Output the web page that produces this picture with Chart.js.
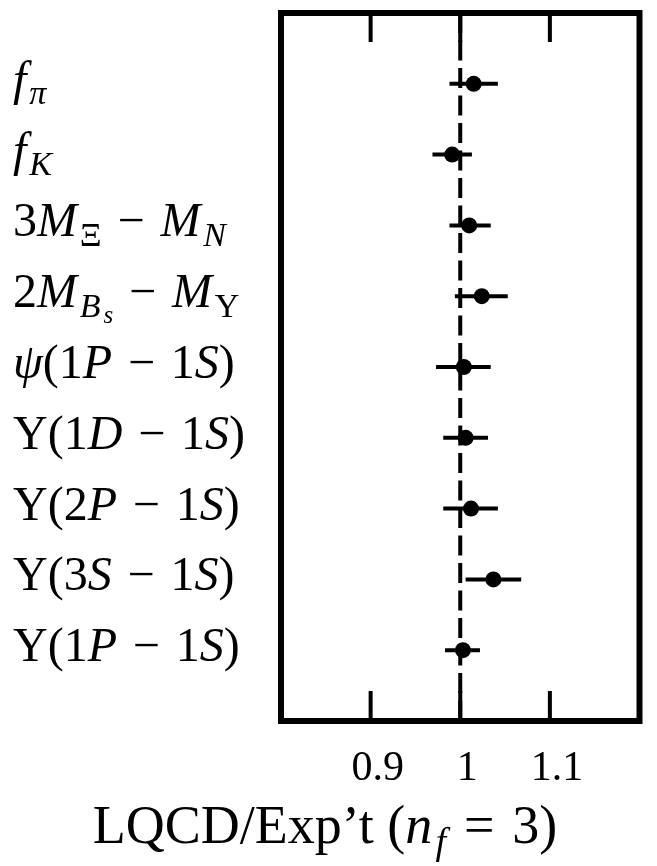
<!DOCTYPE html>
<html>
<head>
<meta charset="utf-8">
<script src="https://cdn.jsdelivr.net/npm/chart.js@4.4.1/dist/chart.umd.min.js"></script>
<style>
  html, body { margin: 0; padding: 0; background: #fff; }
  #wrap { width: 657px; height: 866px; }
</style>
</head>
<body>
<div id="wrap"><canvas id="chart" width="657" height="866"></canvas></div>
<script>
// rows from top to bottom; $..$ marks math mode, _{..} a subscript
const categories = [
  '$f_{π}$',
  '$f_{K}$',
  '$3M_{Ξ} − M_{N}$',
  '$2M_{B_{s}} − M_{Υ}$',
  '$ψ(1P − 1S)$',
  '$Υ(1D − 1S)$',
  '$Υ(2P − 1S)$',
  '$Υ(3S − 1S)$',
  '$Υ(1P − 1S)$'
];
const ratio   = [1.015, 0.991, 1.010, 1.024, 1.004, 1.006, 1.012, 1.037, 1.003];
const errLow  = [0.988, 0.969, 0.988, 0.994, 0.973, 0.981, 0.981, 1.006, 0.983];
const errHigh = [1.042, 1.013, 1.034, 1.053, 1.034, 1.031, 1.042, 1.068, 1.022];
const tickValues = [0.9, 1, 1.1];
const tickLabels = ['0.9', '1', '1.1'];
const xTitle = 'LQCD/Exp\u2019t ($n_{f} = 3$)';

const rowY = categories.map((c, i) => categories.length - i);
const FONT = '"Liberation Serif", "DejaVu Serif", serif';

function parseRich(str) {
  const runs = [];
  let math = false, level = 0, i = 0;
  const push = (ch, lvl) => {
    const italic = math && /[A-Za-z\u03b1-\u03c9]/.test(ch);
    const space = math && ch === ' ';
    const last = runs[runs.length - 1];
    if (!space && last && !last.space && last.italic === italic && last.level === lvl) last.text += ch;
    else runs.push({ text: ch, italic: italic, level: lvl, space: space });
  };
  while (i < str.length) {
    const ch = str[i];
    if (ch === '$') { math = !math; i++; continue; }
    if (ch === '_') {
      if (str[i + 1] === '{') { level++; i += 2; continue; }
      push(str[i + 1], level + 1); i += 2; continue;
    }
    if (ch === '}') { level--; i++; continue; }
    push(ch, level); i++;
  }
  return runs;
}

function drawRich(ctx, str, x, y, size, align) {
  const runs = parseRich(str);
  const scale = [1, 0.7, 0.52], drop = [0, 0.2, 0.33];
  const fontFor = r => (r.italic ? 'italic ' : '') + Math.round(size * scale[r.level]) + 'px ' + FONT;
  let w = 0;
  runs.forEach((r, k) => {
    ctx.font = fontFor(r);
    // math spaces (around binary operators) are wider, as in TeX
    r.w = r.space ? size * 0.33 : ctx.measureText(r.text).width;
    const prev = runs[k - 1];
    r.gap = (prev && prev.italic && r.level > prev.level) ? size * 0.06 : 0;
    w += r.w + r.gap;
  });
  let cx = align === 'center' ? x - w / 2 : x;
  ctx.textAlign = 'left';
  ctx.textBaseline = 'alphabetic';
  runs.forEach(r => {
    cx += r.gap;
    ctx.font = fontFor(r);
    if (!r.space) ctx.fillText(r.text, cx, y + size * drop[r.level]);
    cx += r.w;
  });
}

const framePlugin = {
  id: 'frame',
  afterDraw(chart) {
    const ctx = chart.ctx, a = chart.chartArea;
    const xs = chart.scales.x, ys = chart.scales.y;
    ctx.save();
    ctx.strokeStyle = '#000';
    ctx.fillStyle = '#000';
    // ticks pointing inward, top and bottom
    ctx.lineWidth = 4;
    tickValues.forEach(v => {
      const px = xs.getPixelForValue(v);
      ctx.beginPath();
      ctx.moveTo(px, a.top); ctx.lineTo(px, a.top + 29);
      ctx.moveTo(px, a.bottom); ctx.lineTo(px, a.bottom - 30);
      ctx.stroke();
    });
    ctx.lineWidth = 6;
    ctx.strokeRect(a.left, a.top, a.right - a.left, a.bottom - a.top);
    // tick labels
    tickValues.forEach((v, i) => {
      drawRich(ctx, tickLabels[i], xs.getPixelForValue(v) + 7, 780, 42, 'center');
    });
    // row labels
    categories.forEach((c, i) => {
      drawRich(ctx, c, 13, ys.getPixelForValue(rowY[i]) + 11, 48, 'left');
    });
    // axis title
    drawRich(ctx, xTitle, 325, 843, 54, 'center');
    ctx.restore();
  }
};

new Chart(document.getElementById('chart'), {
  type: 'scatter',
  data: {
    datasets: [
      {
        data: [{ x: 1, y: 10 }, { x: 1, y: 0 }],
        showLine: true,
        borderColor: '#000',
        borderWidth: 4,
        borderDash: [20, 7.5],
        pointRadius: 0
      },
      ...categories.map((c, i) => ({
        data: [{ x: errLow[i], y: rowY[i] }, { x: errHigh[i], y: rowY[i] }],
        showLine: true,
        borderColor: '#000',
        borderWidth: 4,
        pointRadius: 0
      })),
      {
        data: ratio.map((v, i) => ({ x: v, y: rowY[i] })),
        backgroundColor: '#000',
        borderWidth: 0,
        pointRadius: 8,
        pointHoverRadius: 8
      }
    ]
  },
  options: {
    responsive: false,
    animation: false,
    events: [],
    layout: { padding: { left: 281, right: 17.5, top: 13, bottom: 145 } },
    plugins: { legend: { display: false }, tooltip: { enabled: false } },
    scales: {
      x: { type: 'linear', min: 0.8, max: 1.2, display: false },
      y: { type: 'linear', min: 0, max: 10, display: false }
    }
  },
  plugins: [framePlugin]
});
</script>
</body>
</html>
